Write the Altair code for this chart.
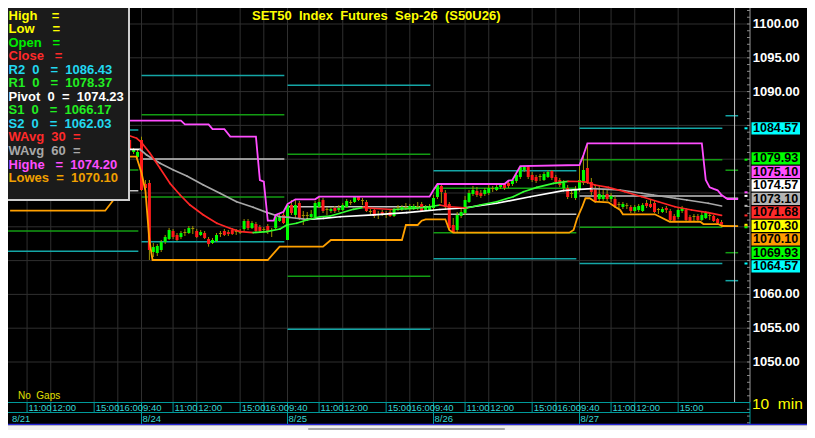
import altair as alt
import pandas as pd

FONT = "Liberation Sans, Arial, Helvetica, sans-serif"

# ---------------- data ----------------
day_labels = ["8/21", "8/24", "8/25", "8/26", "8/27"]
day_start = [-37, 0, 37, 74, 111]          # bar index of 9:40 of each day
time_offsets = [0, 8, 14, 25, 31]
time_names = ["9:40", "11:00", "12:00", "15:00", "16:00"]
last_tick_idx = 136                         # 8/27 15:00 is the last labelled tick

first_bar = -3
opens = [1082.84, 1081.07, 1080.33,
         1082.84, 1076.33, 1076.48, 1066.27, 1066.12, 1066.57, 1067.75, 1068.19, 1069.38, 1068.79,
         1068.49, 1069.08, 1069.08, 1069.67, 1069.38, 1068.79, 1069.08, 1068.19, 1067.60, 1067.90,
         1068.93, 1069.38, 1069.23, 1069.53, 1069.23, 1069.08, 1069.67, 1070.86, 1069.82, 1070.41,
         1069.97, 1069.53, 1070.12, 1069.38, 1069.82, 1070.86, 1071.75,
         1068.05, 1073.22, 1071.75, 1073.52, 1071.60, 1071.60, 1071.45, 1071.45, 1072.93, 1073.96,
         1072.49, 1072.34, 1072.78, 1072.49, 1072.49, 1072.93, 1073.52, 1073.67, 1074.41, 1073.82,
         1073.67, 1072.19, 1072.49, 1071.89, 1072.19, 1071.89, 1072.19, 1071.60, 1072.78, 1072.63,
         1072.78, 1072.63, 1072.63, 1072.93, 1073.37, 1072.49, 1072.49,
         1072.78, 1074.41, 1076.04, 1075.00, 1073.37, 1070.27, 1069.53, 1071.60, 1072.04, 1073.67,
         1074.85, 1075.30, 1075.00, 1074.85, 1075.00, 1075.59, 1075.44, 1075.89, 1076.33, 1076.48,
         1076.33, 1076.78, 1077.37, 1078.40, 1078.85, 1077.67, 1077.37, 1077.37, 1076.92, 1077.37,
         1078.25, 1077.37, 1076.92, 1075.74, 1075.74, 1074.85, 1074.26,
         1075.44, 1076.48, 1078.70, 1076.63, 1075.74, 1074.11, 1074.11, 1074.85, 1074.11, 1074.11,
         1073.22, 1072.93, 1073.08, 1072.93, 1072.34, 1072.49, 1072.34, 1073.52, 1073.37, 1073.52,
         1072.49, 1072.19, 1072.78, 1072.34, 1071.60, 1071.45, 1072.34, 1072.49, 1071.45, 1071.45,
         1071.60, 1071.01, 1071.30, 1071.60, 1071.60, 1071.15, 1070.71]
closes = [1081.36, 1081.36, 1081.07,
          1075.44, 1075.74, 1066.57, 1067.01, 1067.16, 1067.75, 1068.49, 1069.53, 1068.49, 1068.05,
          1069.08, 1069.23, 1069.82, 1069.82, 1068.49, 1069.23, 1068.34, 1067.45, 1068.05, 1068.79,
          1069.08, 1068.79, 1068.93, 1068.93, 1069.38, 1069.38, 1070.86, 1069.82, 1070.56, 1069.38,
          1069.38, 1069.67, 1069.23, 1069.53, 1071.45, 1071.60, 1070.56,
          1073.22, 1072.04, 1073.22, 1071.30, 1071.75, 1071.75, 1071.89, 1073.52, 1073.67, 1072.34,
          1072.63, 1072.63, 1072.34, 1072.78, 1073.22, 1073.82, 1073.67, 1074.41, 1073.96, 1073.96,
          1072.34, 1072.34, 1071.60, 1071.75, 1071.75, 1071.75, 1071.60, 1072.49, 1072.93, 1072.93,
          1072.93, 1073.08, 1073.08, 1073.08, 1072.34, 1072.93, 1073.08,
          1074.26, 1076.18, 1075.15, 1072.93, 1069.82, 1069.23, 1071.75, 1072.19, 1073.96, 1075.00,
          1075.44, 1074.70, 1074.56, 1075.44, 1075.74, 1075.74, 1075.89, 1076.33, 1075.74, 1076.04,
          1076.92, 1077.67, 1078.85, 1078.85, 1077.37, 1076.92, 1076.78, 1077.52, 1077.81, 1078.11,
          1077.22, 1076.63, 1076.18, 1076.48, 1074.41, 1075.00, 1075.44,
          1076.92, 1078.40, 1076.63, 1075.15, 1073.82, 1074.85, 1074.70, 1074.11, 1074.56, 1073.08,
          1073.37, 1073.37, 1073.22, 1072.34, 1072.93, 1073.08, 1073.22, 1073.08, 1072.93, 1072.19,
          1072.63, 1072.63, 1072.49, 1071.01, 1070.90, 1072.49, 1072.78, 1071.01, 1070.90, 1071.60,
          1071.01, 1071.75, 1072.04, 1071.75, 1070.86, 1070.56, 1070.30]
highs = [1083.13, 1081.66, 1081.36,
         1083.33, 1076.92, 1076.92, 1067.60, 1067.45, 1068.05, 1068.79, 1069.82, 1069.67, 1069.08,
         1069.38, 1069.67, 1070.12, 1070.12, 1069.67, 1069.53, 1069.38, 1068.49, 1068.34, 1069.08,
         1069.38, 1069.67, 1069.53, 1069.82, 1069.67, 1069.67, 1071.15, 1071.15, 1070.86, 1070.71,
         1070.27, 1069.97, 1070.41, 1069.82, 1071.75, 1072.04, 1072.19,
         1073.52, 1073.96, 1074.07, 1073.82, 1072.34, 1072.19, 1072.49, 1073.82, 1074.45, 1074.26,
         1072.93, 1072.93, 1073.08, 1073.22, 1073.52, 1074.11, 1073.96, 1074.45, 1074.45, 1074.26,
         1073.96, 1072.63, 1072.78, 1072.34, 1072.49, 1072.34, 1072.49, 1072.78, 1073.22, 1073.22,
         1073.52, 1073.37, 1073.37, 1073.67, 1073.67, 1073.22, 1073.37,
         1074.70, 1076.33, 1076.18, 1075.44, 1073.67, 1071.30, 1072.19, 1072.93, 1074.56, 1075.44,
         1076.04, 1075.89, 1075.44, 1075.74, 1076.18, 1076.04, 1076.18, 1076.33, 1076.33, 1076.82,
         1076.95, 1077.96, 1078.99, 1078.99, 1078.99, 1078.11, 1077.67, 1077.81, 1078.11, 1078.40,
         1078.40, 1077.67, 1077.22, 1076.92, 1076.18, 1075.44, 1076.04,
         1079.14, 1080.62, 1082.35, 1077.22, 1076.18, 1076.18, 1075.44, 1075.44, 1075.00, 1074.56,
         1073.67, 1073.67, 1073.52, 1073.22, 1073.22, 1073.37, 1073.52, 1073.96, 1073.96, 1073.96,
         1072.78, 1072.93, 1073.08, 1072.63, 1071.89, 1072.93, 1073.08, 1072.78, 1071.75, 1071.89,
         1071.89, 1072.19, 1072.34, 1072.04, 1071.75, 1071.30, 1071.01]
lows = [1081.07, 1080.77, 1080.18,
        1075.30, 1075.15, 1065.09, 1065.53, 1065.68, 1066.27, 1067.45, 1068.05, 1068.19, 1067.90,
        1068.19, 1068.64, 1068.93, 1068.93, 1068.34, 1068.64, 1068.19, 1067.06, 1067.45, 1067.75,
        1068.49, 1068.64, 1068.64, 1068.79, 1068.79, 1068.93, 1069.38, 1069.53, 1069.67, 1069.23,
        1069.08, 1069.08, 1068.93, 1068.49, 1069.67, 1070.71, 1070.41,
        1068.05, 1071.75, 1071.30, 1071.01, 1070.27, 1070.90, 1071.11, 1071.30, 1072.78, 1072.04,
        1071.75, 1072.04, 1072.04, 1072.19, 1072.34, 1072.78, 1073.22, 1073.52, 1073.82, 1073.22,
        1072.19, 1071.75, 1071.30, 1071.15, 1071.60, 1071.30, 1071.45, 1071.45, 1072.34, 1072.34,
        1072.49, 1072.34, 1072.49, 1072.49, 1072.19, 1072.34, 1072.34,
        1072.49, 1074.11, 1073.52, 1072.49, 1069.53, 1069.13, 1069.13, 1071.30, 1071.75, 1073.52,
        1074.56, 1074.41, 1074.26, 1074.56, 1074.70, 1075.15, 1075.30, 1075.59, 1075.44, 1075.74,
        1076.04, 1076.48, 1077.07, 1078.11, 1077.07, 1076.63, 1076.48, 1076.78, 1076.78, 1077.22,
        1076.92, 1076.33, 1075.89, 1075.44, 1074.11, 1074.26, 1073.96,
        1075.15, 1076.18, 1076.33, 1074.70, 1073.52, 1073.82, 1073.82, 1073.82, 1073.67, 1072.78,
        1072.63, 1072.63, 1072.63, 1072.04, 1072.04, 1072.19, 1072.19, 1072.78, 1072.78, 1072.04,
        1071.89, 1072.04, 1072.04, 1070.86, 1070.71, 1071.15, 1072.04, 1070.86, 1070.71, 1070.86,
        1070.86, 1070.86, 1071.15, 1071.01, 1070.71, 1070.41, 1070.10]

# Weighted averages
w30_i = [-3.6, -1.2, 0.05, 2.15, 4.7, 7.2, 9.8, 12.3, 15.7, 19.1, 22.4, 25.0, 28.3, 31.7, 35.1, 36.8,
         39.3, 41.9, 45.2, 47.8, 50.3, 53.7, 56.2, 59.2, 63.8, 68.9, 73.1, 75.6, 77.4, 82.5, 85.8, 90.0,
         94.2, 96.8, 100.2, 104.4, 108.1, 111.1, 112.8, 114.9, 118.3, 122.5, 126.8, 131.0, 135.2,
         139.4, 143.6, 147.0]
w30_p = [1083.58, 1083.09, 1082.44, 1080.87, 1078.65, 1076.43, 1074.70, 1073.22, 1071.75, 1070.52,
         1069.78, 1069.28, 1069.13, 1069.28, 1069.67, 1070.27, 1070.52, 1071.01, 1071.49, 1071.60,
         1072.00, 1072.59, 1072.86, 1072.71, 1072.56, 1072.71, 1072.97, 1073.22, 1073.00, 1072.78,
         1073.22, 1073.71, 1074.45, 1075.19, 1075.84, 1076.43, 1076.72, 1076.70, 1076.60, 1076.18,
         1075.84, 1075.19, 1074.45, 1073.71, 1072.97, 1072.49, 1072.09, 1071.68]
w60_i = [-3.7, -0.4, 1.3, 4.7, 8.1, 11.5, 15.7, 19.9, 24.1, 28.3, 31.7, 35.1, 37.6, 41.9, 46.1, 50.3,
         58.7, 67.2, 75.6, 81.6, 90.0, 98.5, 106.9, 111.1, 114.2, 118.3, 121.3, 126.8, 129.7, 135.2,
         138.2, 143.6, 147.0]
w60_p = [1081.46, 1081.46, 1080.62, 1079.39, 1078.40, 1077.51, 1076.18, 1074.96, 1073.71, 1072.89,
         1072.14, 1071.49, 1071.38, 1071.11, 1071.26, 1071.49, 1071.75, 1072.09, 1072.56, 1072.78,
         1073.48, 1074.45, 1075.34, 1075.55, 1075.64, 1075.55, 1075.44, 1074.96, 1074.70, 1074.22,
         1073.96, 1073.48, 1073.08]

# Highest high / lowest low channel
hi_i = [-4, 10, 11, 17, 18, 21, 22.5, 29, 30, 31, 32, 33.5, 34, 36, 37, 39, 44, 45, 73, 74, 75, 92,
        93, 94, 96, 111, 112, 113, 142, 143, 144, 145, 146, 147, 148.5, 151.2]
hi_p = [1085.70, 1085.70, 1085.16, 1085.16, 1084.45, 1084.45, 1083.35, 1083.35, 1076.92, 1076.67,
        1070.90, 1070.90, 1071.75, 1072.23, 1073.37, 1074.07, 1074.07, 1074.45, 1074.45, 1075.44,
        1076.33, 1076.33, 1076.82, 1076.92, 1078.99, 1079.14, 1080.62, 1082.35, 1082.35, 1076.92,
        1075.84, 1075.60, 1075.40, 1074.70, 1074.11, 1074.11]
lo_i = [-33.3, -9.2, -7.2, -6.0, -1.3, 0, 1, 2, 2.8, 32, 35, 46, 48, 66, 67, 70, 71, 72, 77, 78, 79,
        108.4, 109.5, 110.4, 111.7, 112.5, 113.6, 114.9, 118.3, 120, 121.3, 122, 130.1, 133.9, 141.6,
        142.4, 146.2, 147.1, 151.2]
lo_p = [1072.38, 1072.38, 1073.90, 1080.37, 1080.37, 1078.00, 1075.30, 1068.00, 1065.09, 1065.09,
        1067.06, 1067.06, 1068.05, 1068.05, 1070.27, 1070.27, 1070.90, 1071.11, 1071.11, 1069.53,
        1069.13, 1069.13, 1069.53, 1071.26, 1072.97, 1074.22, 1074.22, 1073.71, 1073.62, 1072.97,
        1072.49, 1071.85, 1071.85, 1070.75, 1070.75, 1070.41, 1070.41, 1070.12, 1070.10]

# Daily pivot levels (8/21 .. 8/28)
lvl_start = [-37, 0, 37, 74, 111, 148]
lvl_R2 = [1084.32, 1092.40, 1090.93, 1078.30, 1084.57, 1086.43]
lvl_R1 = [1078.40, 1086.58, 1080.72, 1075.70, 1079.93, 1078.37]
lvl_P = [1075.34, 1080.03, 1072.97, 1071.85, 1074.57, 1074.23]
lvl_S1 = [1069.39, 1074.41, 1062.68, 1069.13, 1069.93, 1066.17]
lvl_S2 = [1066.38, 1067.80, 1054.84, 1065.28, 1064.57, 1062.03]
last_bar_end = 151.2
cursor_idx = 150.3

# Price tags on the right axis
tag_vals = [1084.57, 1079.93, 1075.10, 1074.57, 1073.10, 1071.68, 1070.30, 1070.10, 1069.93, 1064.57]
tag_cols = ["#00ffff", "#00ff00", "#ff4dff", "#ffffff", "#b4b4b4", "#ff2a2a", "#ffff00", "#ff9c00",
            "#00ff00", "#00ffff"]
axis_label_vals = [1100, 1095, 1090, 1060, 1055, 1050]

legend_rows = [
    ("High\u00a0\u00a0\u00a0\u00a0=", "#ffff00"),
    ("Low\u00a0\u00a0\u00a0\u00a0\u00a0=", "#ffff00"),
    ("Open\u00a0\u00a0\u00a0=", "#00ee00"),
    ("Close\u00a0\u00a0\u00a0=", "#ff2a2a"),
    ("R2\u00a0\u00a00\u00a0\u00a0\u00a0=\u00a0\u00a01086.43", "#22d8f0"),
    ("R1\u00a0\u00a00\u00a0\u00a0\u00a0=\u00a0\u00a01078.37", "#22ee22"),
    ("Pivot\u00a0\u00a00\u00a0\u00a0=\u00a0\u00a01074.23", "#ffffff"),
    ("S1\u00a0\u00a00\u00a0\u00a0\u00a0=\u00a0\u00a01066.17", "#22ee22"),
    ("S2\u00a0\u00a00\u00a0\u00a0\u00a0=\u00a0\u00a01062.03", "#22d8f0"),
    ("WAvg\u00a0\u00a030\u00a0\u00a0=", "#ff2a2a"),
    ("WAvg\u00a0\u00a060\u00a0\u00a0=", "#a8a8a8"),
    ("Highe\u00a0\u00a0\u00a0=\u00a0\u00a01074.20", "#ff4dff"),
    ("Lowes\u00a0\u00a0=\u00a0\u00a01070.10", "#f0a000"),
]
title_text = "SET50\u00a0\u00a0Index\u00a0\u00a0Futures\u00a0\u00a0Sep-26\u00a0\u00a0(S50U26)"

# ---------------- layout / scales ----------------
W, H = 799, 422
BAR_PX = 3.946
X_IDX0 = 133.5
Y_1100 = 16.0
PX_PER_PT = 6.76
PLOT_BOTTOM = 394.5
AXIS_X = 742

x_dom = [(0 - X_IDX0) / BAR_PX, (W - X_IDX0) / BAR_PX]
y_dom = [1100 - (H - Y_1100) / PX_PER_PT, 1100 + Y_1100 / PX_PER_PT]
XS = alt.Scale(domain=x_dom, range=[0, W], nice=False, zero=False)
YS = alt.Scale(domain=y_dom, range=[H, 0], nice=False, zero=False)


def X(f):
    return alt.X(f, type="quantitative", scale=XS, axis=None)


def Y(f):
    return alt.Y(f, type="quantitative", scale=YS, axis=None)


one = pd.DataFrame({"k": [0]})
GRID = "#2f2f2f"
WICK = "#a09400"
TEAL = "#009a9a"
TEAL_TXT = "#36d4d4"

layers = []

# grid
grid_h = pd.DataFrame({"p": list(range(1050, 1101, 5))})
layers.append(alt.Chart(grid_h).mark_rule(color=GRID, strokeWidth=1).encode(
    y=Y("p"), x=alt.value(0), x2=alt.value(AXIS_X)))

left_idx = x_dom[0]
tick_i, tick_l = [], []
for d0 in day_start:
    for off, nm in zip(time_offsets, time_names):
        ii = d0 + off
        if left_idx <= ii <= last_tick_idx:
            tick_i.append(ii)
            tick_l.append(nm)
ticks = pd.DataFrame({"i": tick_i, "t": tick_l})
layers.append(alt.Chart(ticks).mark_rule(color=GRID, strokeWidth=1).encode(
    x=X("i"), y=alt.value(0), y2=alt.value(PLOT_BOTTOM)))

# pivot levels
lv_rows = []
for k, s in enumerate(lvl_start):
    e = last_bar_end if k == len(lvl_start) - 1 else s + 36.2
    for arr, col in [(lvl_R2, "#14a6a6"), (lvl_R1, "#139c13"), (lvl_P, "#c4c4c4"),
                     (lvl_S1, "#139c13"), (lvl_S2, "#14a6a6")]:
        lv_rows.append(dict(s=s, e=e, p=arr[k], col=col))
layers.append(alt.Chart(pd.DataFrame(lv_rows)).mark_rule(strokeWidth=1.5).encode(
    x=X("s"), x2=alt.X2("e"), y=Y("p"), color=alt.Color("col:N", scale=None)))

# candles
n = len(opens)
cdf = pd.DataFrame({"i": list(range(first_bar, first_bar + n)), "o": opens, "c": closes,
                    "h": highs, "l": lows})
cdf["col"] = ["#00ff00" if c - o > 0.2 else ("#ff1a1a" if o - c > 0.2 else WICK)
              for o, c in zip(cdf.o, cdf.c)]
layers.append(alt.Chart(cdf).mark_rule(color=WICK, strokeWidth=1).encode(
    x=X("i"), y=Y("h"), y2=alt.Y2("l")))
layers.append(alt.Chart(cdf).mark_rule(strokeWidth=3).encode(
    x=X("i"), y=Y("o"), y2=alt.Y2("c"), color=alt.Color("col:N", scale=None)))


def segments(ii, pp, c_up, c_dn):
    rows = []
    for k in range(len(ii) - 1):
        rows.append(dict(i=ii[k], p=pp[k], i2=ii[k + 1], p2=pp[k + 1],
                         col=c_up if pp[k + 1] >= pp[k] else c_dn))
    return pd.DataFrame(rows)


for ii, pp, cu, cd in [(w60_i, w60_p, "#ffffff", "#a8a8a8"), (w30_i, w30_p, "#33ff33", "#ff2626")]:
    layers.append(alt.Chart(segments(ii, pp, cu, cd)).mark_rule(strokeWidth=1.7, strokeCap="round").encode(
        x=X("i"), y=Y("p"), x2=alt.X2("i2"), y2=alt.Y2("p2"), color=alt.Color("col:N", scale=None)))

layers.append(alt.Chart(pd.DataFrame({"i": hi_i, "p": hi_p})).mark_line(
    color="#ff4dff", strokeWidth=1.8).encode(x=X("i"), y=Y("p"), order="i:Q"))
layers.append(alt.Chart(pd.DataFrame({"i": lo_i, "p": lo_p})).mark_line(
    color="#ffa000", strokeWidth=1.8).encode(x=X("i"), y=Y("p"), order="i:Q"))

# cursor line
layers.append(alt.Chart(pd.DataFrame({"i": [cursor_idx]})).mark_rule(color="#c8c8c8", strokeWidth=1).encode(
    x=X("i"), y=alt.value(0), y2=alt.value(PLOT_BOTTOM)))

# price axis
layers.append(alt.Chart(one).mark_rule(color="#9a9a9a", strokeWidth=1).encode(
    x=alt.value(AXIS_X), y=alt.value(0), y2=alt.value(PLOT_BOTTOM)))
minor = pd.DataFrame({"p": list(range(1041, 1103))})
layers.append(alt.Chart(minor).mark_rule(color="#8a8a8a", strokeWidth=1).encode(
    y=Y("p"), x=alt.value(AXIS_X - 3), x2=alt.value(AXIS_X)))
ax = pd.DataFrame({"p": axis_label_vals, "t": ["%.2f" % v for v in axis_label_vals]})
layers.append(alt.Chart(ax).mark_text(align="left", baseline="middle", font=FONT, fontSize=13,
                                      fontWeight="bold", color="#ffffff").encode(
    y=Y("p"), x=alt.value(744.7), text="t:N"))

# tags (stacked so they do not overlap)
hgt = 13.5 / PX_PER_PT
order = sorted(range(len(tag_vals)), key=lambda k: -tag_vals[k])
clusters = [[k] for k in order]


def place(cl):
    m = len(cl)
    c = sum(tag_vals[k] for k in cl) / m
    return [c + ((m - 1) / 2 - j) * hgt for j in range(m)]


changed = True
while changed:
    changed = False
    for a in range(len(clusters) - 1):
        if place(clusters[a])[-1] - place(clusters[a + 1])[0] < hgt:
            clusters[a] = clusters[a] + clusters[a + 1]
            del clusters[a + 1]
            changed = True
            break
disp = {}
for cl in clusters:
    for k, pos in zip(cl, place(cl)):
        disp[k] = pos
half = 6.1 / PX_PER_PT
tags = pd.DataFrame({"v": tag_vals, "col": tag_cols,
                     "d": [disp[k] for k in range(len(tag_vals))],
                     "t": ["%.2f" % v for v in tag_vals]})
tags["lo"] = tags.d - half
tags["hi"] = tags.d + half
layers.append(alt.Chart(tags).mark_rule(strokeWidth=2).encode(
    y=Y("v"), x=alt.value(AXIS_X - 5.5), x2=alt.value(AXIS_X - 2.5), color=alt.Color("col:N", scale=None)))
layers.append(alt.Chart(tags).mark_rect().encode(
    y=Y("hi"), y2=alt.Y2("lo"), x=alt.value(743.5), x2=alt.value(792), color=alt.Color("col:N", scale=None)))
layers.append(alt.Chart(tags).mark_text(align="left", baseline="middle", font=FONT, fontSize=12.5,
                                        fontWeight="bold", color="#000000").encode(
    y=Y("d"), x=alt.value(745), text="t:N"))

# time axis band
for yy in (PLOT_BOTTOM, PLOT_BOTTOM + 10):
    layers.append(alt.Chart(one).mark_rule(color=TEAL, strokeWidth=1).encode(
        x=alt.value(0), x2=alt.value(AXIS_X), y=alt.value(yy)))
layers.append(alt.Chart(one).mark_rule(color=TEAL, strokeWidth=1).encode(
    x=alt.value(AXIS_X), y=alt.value(PLOT_BOTTOM), y2=alt.value(PLOT_BOTTOM + 22)))
layers.append(alt.Chart(ticks).mark_rule(color=TEAL, strokeWidth=1).encode(
    x=X("i"), y=alt.value(PLOT_BOTTOM), y2=alt.value(PLOT_BOTTOM + 10)))
layers.append(alt.Chart(ticks).mark_text(align="left", baseline="middle", dx=1.5, font=FONT,
                                         fontSize=9.5, color=TEAL_TXT).encode(
    x=X("i"), y=alt.value(PLOT_BOTTOM + 5.3), text="t:N"))
dates = pd.DataFrame({"i": [max(d, -33.1) for d in day_start], "t": day_labels,
                      "sep": day_start})
layers.append(alt.Chart(dates[dates.sep >= left_idx]).mark_rule(color=TEAL, strokeWidth=1).encode(
    x=X("sep"), y=alt.value(PLOT_BOTTOM + 10), y2=alt.value(PLOT_BOTTOM + 22)))
layers.append(alt.Chart(dates).mark_text(align="left", baseline="middle", dx=1, font=FONT,
                                         fontSize=9.5, color=TEAL_TXT).encode(
    x=X("i"), y=alt.value(PLOT_BOTTOM + 16.3), text="t:N"))

# frame bottom + scrollbar
layers.append(alt.Chart(one).mark_rule(color="#2828d8", strokeWidth=1.5).encode(
    x=alt.value(0), x2=alt.value(W), y=alt.value(416.5)))
layers.append(alt.Chart(one).mark_rect(color="#f0f0f0").encode(
    x=alt.value(0), x2=alt.value(W), y=alt.value(417.3), y2=alt.value(H)))
layers.append(alt.Chart(one).mark_rect(color="#a8a8a8", cornerRadius=1).encode(
    x=alt.value(300), x2=alt.value(497), y=alt.value(420), y2=alt.value(H)))

# texts
layers.append(alt.Chart(one).mark_text(align="left", baseline="middle", font=FONT, fontSize=10,
                                       color="#e0e000").encode(
    x=alt.value(10), y=alt.value(388), text=alt.value("No\u00a0\u00a0Gaps")))
layers.append(alt.Chart(one).mark_text(align="left", baseline="middle", font=FONT, fontSize=15.5,
                                       color="#ffff00").encode(
    x=alt.value(744), y=alt.value(395.5), text=alt.value("10\u00a0\u00a0min")))
layers.append(alt.Chart(one).mark_text(align="left", baseline="middle", font=FONT, fontSize=13,
                                       fontWeight="bold", color="#ffff00").encode(
    x=alt.value(244), y=alt.value(8), text=alt.value(title_text)))

# legend box
layers.append(alt.Chart(one).mark_rect(fill="#1b1b1b", stroke="#cfcfcf", strokeWidth=2).encode(
    x=alt.value(-3), x2=alt.value(121), y=alt.value(-3), y2=alt.value(192)))
for r, (txt, col) in enumerate(legend_rows):
    layers.append(alt.Chart(one).mark_text(align="left", baseline="middle", font=FONT, fontSize=13,
                                           fontWeight="bold", color=col).encode(
        x=alt.value(0.5), y=alt.value(7.5 + 13.55 * r), text=alt.value(txt)))

chart = alt.layer(*layers).properties(
    width=W, height=H, padding=0, background="#000000",
    autosize=alt.AutoSizeParams(type="none"),
).configure_view(stroke=None)

chart.save("out.html", embed_options={"renderer": "svg", "actions": False})
